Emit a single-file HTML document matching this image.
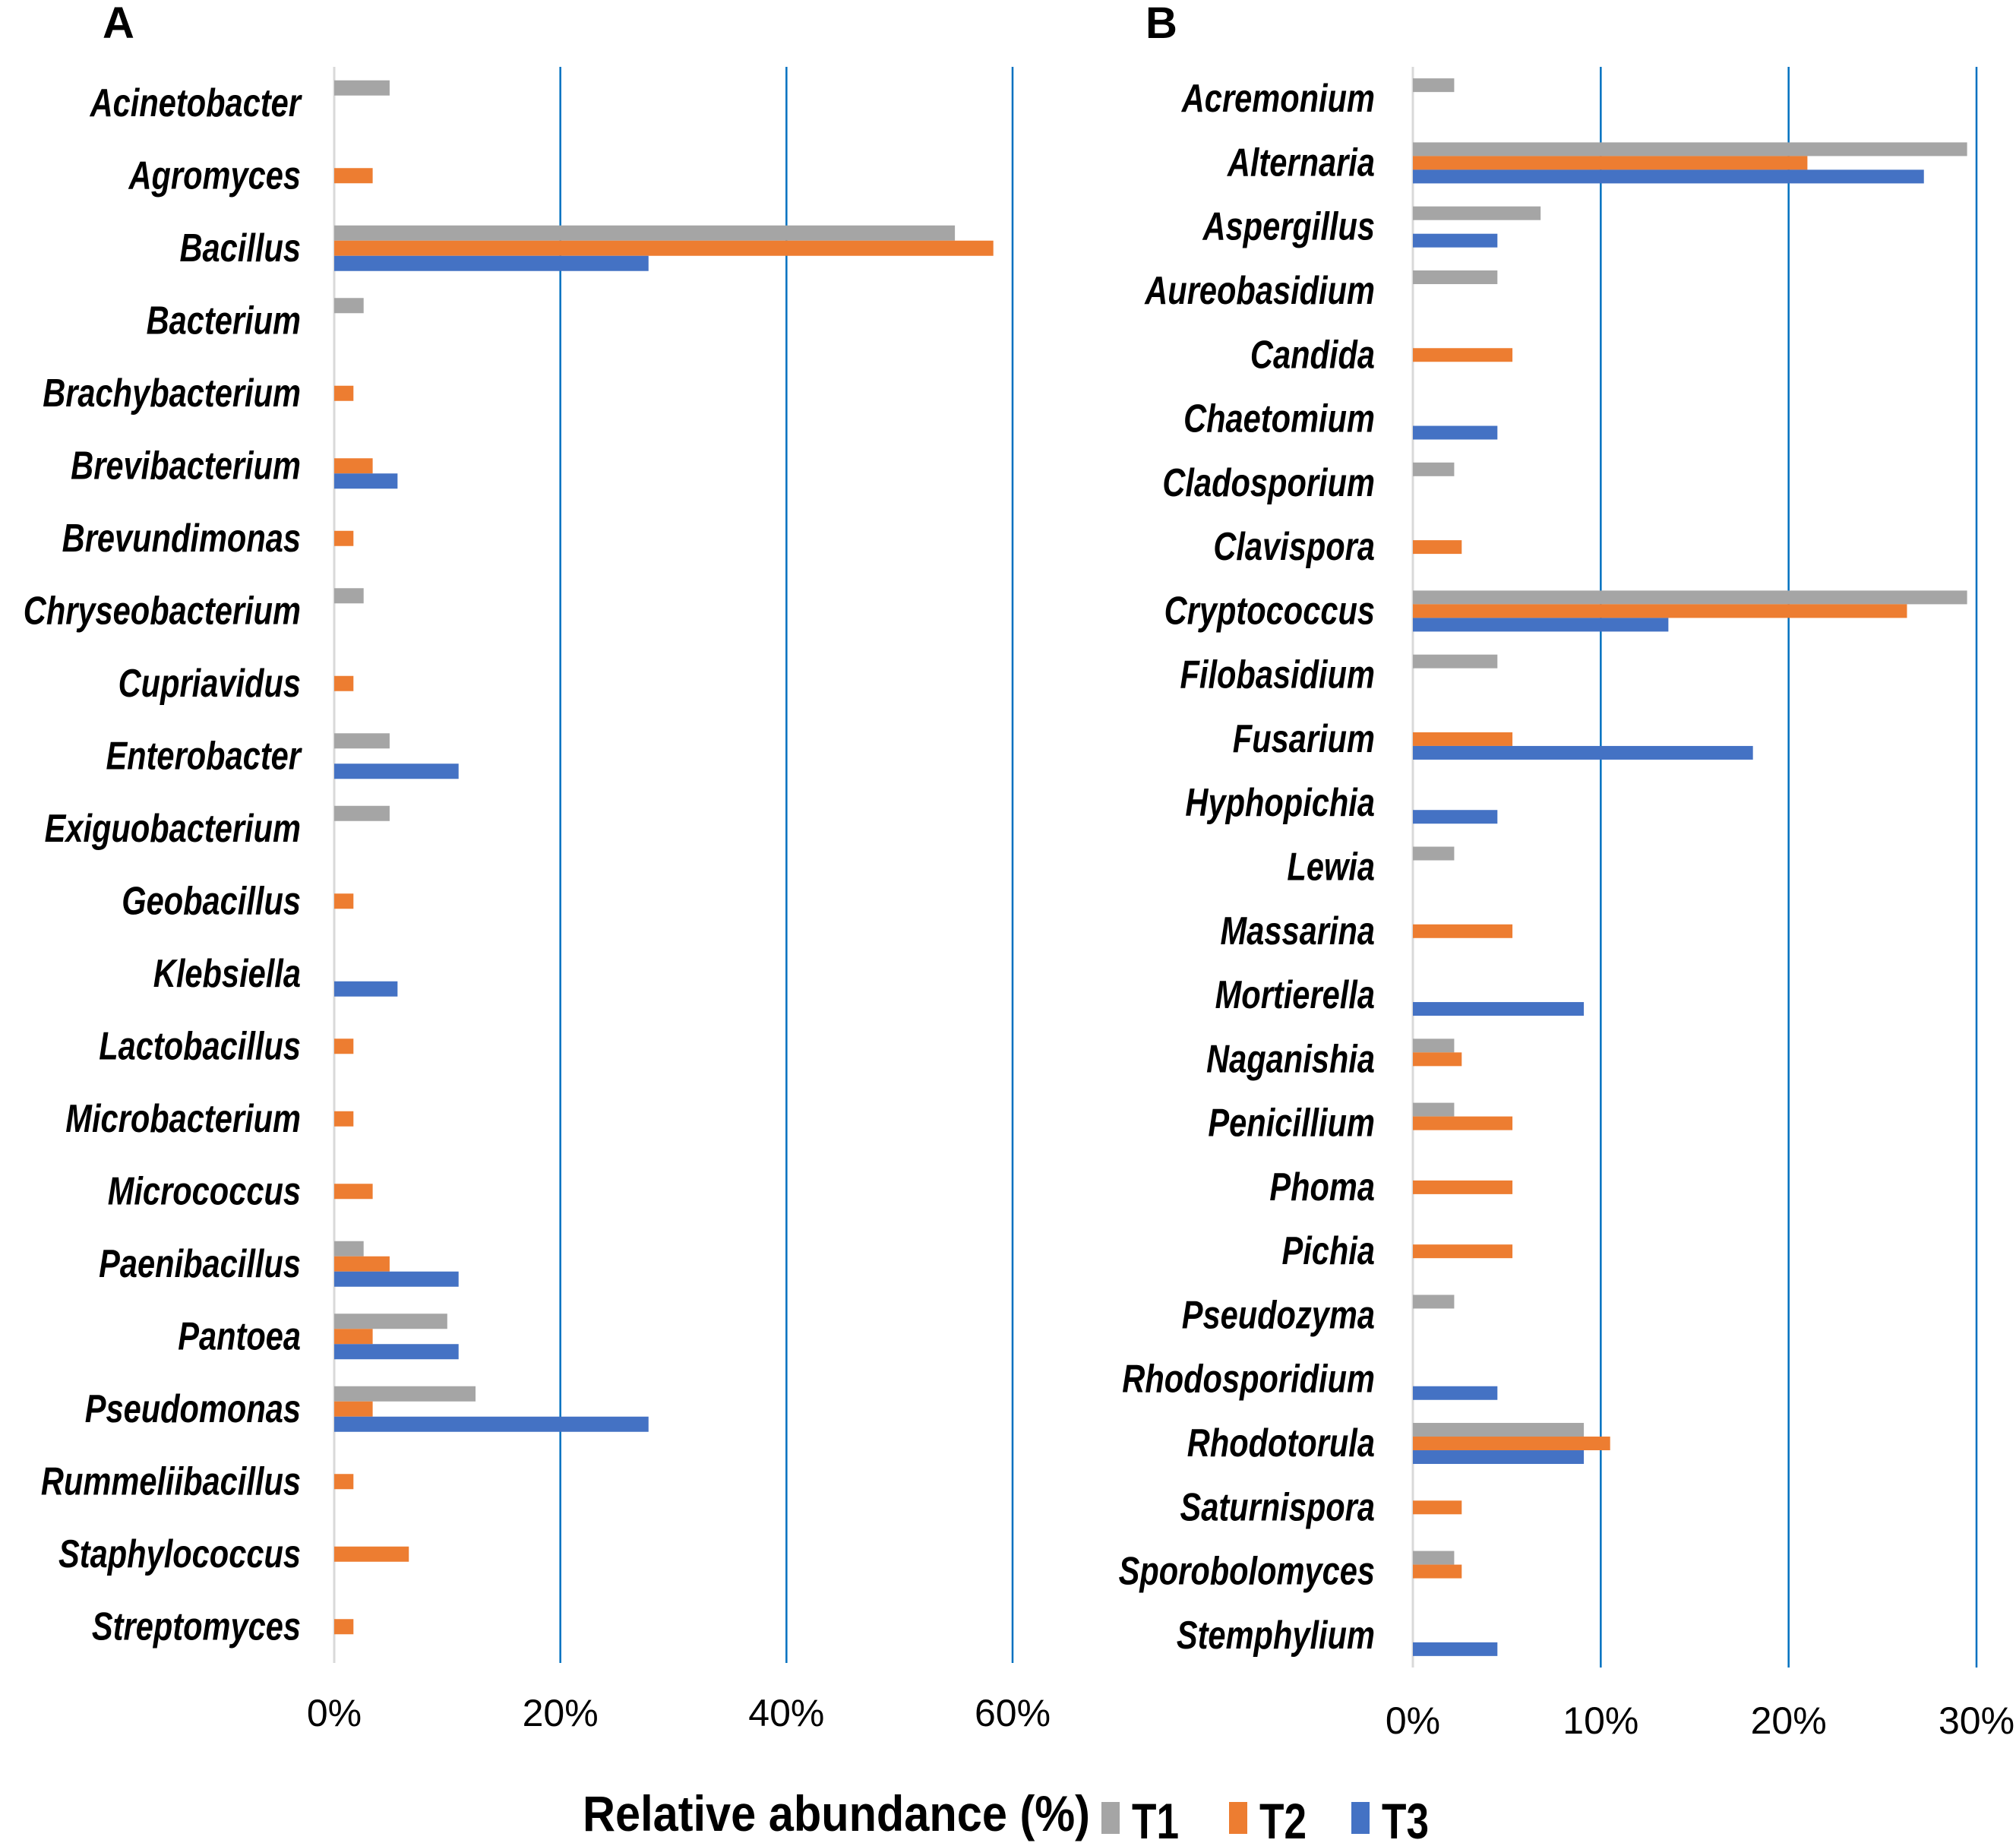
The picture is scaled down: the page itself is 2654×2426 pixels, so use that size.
<!DOCTYPE html>
<html><head><meta charset="utf-8"><style>
html,body{margin:0;padding:0;background:#fff;}
svg{display:block;}
text{font-family:"Liberation Sans",sans-serif;}
</style></head><body>
<svg id="chart" width="2654" height="2426" viewBox="0 0 2654 2426"></svg>
<script>
const catsA=["Acinetobacter","Agromyces","Bacillus","Bacterium","Brachybacterium","Brevibacterium","Brevundimonas","Chryseobacterium","Cupriavidus","Enterobacter","Exiguobacterium","Geobacillus","Klebsiella","Lactobacillus","Microbacterium","Micrococcus","Paenibacillus","Pantoea","Pseudomonas","Rummeliibacillus","Staphylococcus","Streptomyces"];
const a_T1=[4.9,0,54.9,2.6,0,0,0,2.6,0,4.9,4.9,0,0,0,0,0,2.6,10.0,12.5,0,0,0];
const a_T2=[0,3.4,58.3,0,1.7,3.4,1.7,0,1.7,0,0,1.7,0,1.7,1.7,3.4,4.9,3.4,3.4,1.7,6.6,1.7];
const a_T3=[0,0,27.8,0,0,5.6,0,0,0,11.0,0,0,5.6,0,0,0,11.0,11.0,27.8,0,0,0];
const ticksA=[0,20,40,60];
const catsB=["Acremonium","Alternaria","Aspergillus","Aureobasidium","Candida","Chaetomium","Cladosporium","Clavispora","Cryptococcus","Filobasidium","Fusarium","Hyphopichia","Lewia","Massarina","Mortierella","Naganishia","Penicillium","Phoma","Pichia","Pseudozyma","Rhodosporidium","Rhodotorula","Saturnispora","Sporobolomyces","Stemphylium"];
const b_T1=[2.2,29.5,6.8,4.5,0,0,2.2,0,29.5,4.5,0,0,2.2,0,0,2.2,2.2,0,0,2.2,0,9.1,0,2.2,0];
const b_T2=[0,21.0,0,0,5.3,0,0,2.6,26.3,0,5.3,0,0,5.3,0,2.6,5.3,5.3,5.3,0,0,10.5,2.6,2.6,0];
const b_T3=[0,27.2,4.5,0,0,4.5,0,0,13.6,0,18.1,4.5,0,0,9.1,0,0,0,0,0,4.5,9.1,0,0,4.5];
const ticksB=[0,10,20,30];
const seriesNames=["T1","T2","T3"];
const colors=["#A5A5A5","#ED7D31","#4472C4"];

const NS="http://www.w3.org/2000/svg";
const svg=document.getElementById('chart');
function mk(tag,attrs,parent){const e=document.createElementNS(NS,tag);for(const k in attrs)e.setAttribute(k,attrs[k]);(parent||svg).appendChild(e);return e;}

function panel(cfg){
  const g=mk('g',{});
  
  
  const x=v=>cfg.x0+v*cfg.perUnit;
  const band=(cfg.bottom-cfg.top)/cfg.cats.length;
  const yc=i=>cfg.top+band*(i+0.5);
  cfg.ticks.forEach((t,i)=>{
    const l=mk('line',{x1:x(t),x2:x(t),y1:cfg.top,y2:cfg.bottom,stroke:i===0?'#d9d9d9':'#0070C0','stroke-width':i===0?3:2.5},g);
    
    
    const tx=mk('text',{x:x(t),y:cfg.tickY,'text-anchor':'middle','font-size':50,fill:'#000'},g);
    tx.textContent=t+'%';
    
    
  });
  const series=[cfg.s1,cfg.s2,cfg.s3];
  cfg.cats.forEach((c,i)=>{
    const lab=mk('text',{transform:`translate(${cfg.labelX},${yc(i)+17}) scale(0.80,1)`,'text-anchor':'end','font-size':52,'font-weight':'bold','font-style':'italic',fill:'#000'},g);
    lab.textContent=c;
    
    
    series.forEach((s,k)=>{
      if(!s[i])return;
      const r=mk('rect',{x:x(0),y:yc(i)+(k-1.5)*cfg.barH,width:x(s[i])-x(0),height:cfg.barH,fill:colors[k]},g);
      
      
    });
  });
  const pl=mk('text',{x:cfg.letterX,y:50,'font-size':58,'font-weight':'bold',fill:'#000'},g);
  pl.textContent=cfg.letter;
  
  
}
panel({name:'panel-a-bacteria',cats:catsA,s1:a_T1,s2:a_T2,s3:a_T3,ticks:ticksA,x0:440,perUnit:(1333-440)/60,top:88,bottom:2189,barH:20,labelX:396,tickY:2272,letter:'A',letterX:135});
panel({name:'panel-b-fungi',cats:catsB,s1:b_T1,s2:b_T2,s3:b_T3,ticks:ticksB,x0:1860,perUnit:(2602-1860)/30,top:88,bottom:2195,barH:18,labelX:1810,tickY:2282,letter:'B',letterX:1508});

const title=mk('text',{x:767,y:2410,'font-size':66,'font-weight':'bold',fill:'#000',textLength:668,lengthAdjust:'spacingAndGlyphs'});
title.textContent='Relative abundance (%)';


const legX=[1450,1618,1779];
seriesNames.forEach((n,k)=>{
  const sw=mk('rect',{x:legX[k],y:2372,width:24,height:42,fill:colors[k]});
  
  
  const t=mk('text',{x:legX[k]+40,y:2420,'font-size':66,'font-weight':'bold',fill:'#000',textLength:62,lengthAdjust:'spacingAndGlyphs'});
  t.textContent=n;
  
  
});
</script>
</body></html>
